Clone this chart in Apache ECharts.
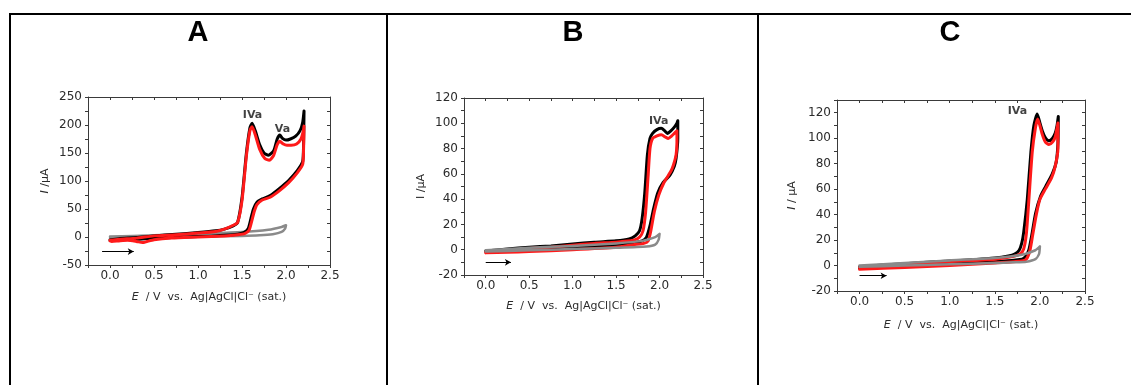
<!DOCTYPE html>
<html>
<head>
<meta charset="utf-8">
<script src="https://cdn.jsdelivr.net/npm/echarts@6/dist/echarts.min.js"></script>
<style>
  html, body { margin: 0; padding: 0; background: #fff; }
  #chart { width: 1131px; height: 385px; }
</style>
</head>
<body>
<div id="chart"></div>
<script>
// Cyclic voltammograms, three electrodes (A, B, C): [E / V, I / µA] along each sweep
const xTickLabels = [0, 0.5, 1.0, 1.5, 2.0, 2.5];
const xTicks = [-0.25, 0, 0.25, 0.5, 0.75, 1.0, 1.25, 1.5, 1.75, 2.0, 2.25, 2.5];

const aBlack = [[0,-5],[0.1,-3],[0.3,-1],[0.5,2],[0.75,5],[1.0,8],[1.2,11],[1.3,14],[1.4,20],[1.45,26],[1.5,70],[1.55,150],[1.59,195],[1.615,203],[1.65,190],[1.7,165],[1.75,150],[1.8,146],[1.86,154],[1.9,175],[1.93,182],[1.96,176],[2.0,173],[2.05,175],[2.11,180],[2.16,190],[2.19,205],[2.205,225],
  [2.2,170],[2.19,135],[2.13,119],[2.03,101],[1.92,86],[1.82,74],[1.73,68],[1.67,62],[1.63,50],[1.6,32],[1.57,15],[1.52,8],[1.45,5],[1.3,3],[1.0,1],[0.7,-1],[0.5,-2],[0.3,-4],[0.1,-5],[0,-6]];
const aRed = [[0,-6],[0.1,-4],[0.3,-2],[0.5,2],[0.75,4],[1.0,7],[1.2,10],[1.3,14],[1.4,21],[1.45,26],[1.5,65],[1.55,145],[1.59,190],[1.615,197],[1.65,183],[1.7,157],[1.76,140],[1.81,137],[1.86,146],[1.9,165],[1.93,171],[1.97,166],[2.01,164],[2.06,164],[2.12,166],[2.17,175],[2.195,188],[2.205,198],
  [2.2,160],[2.19,130],[2.13,115],[2.03,97],[1.92,82],[1.82,71],[1.73,66],[1.67,58],[1.64,46],[1.61,28],[1.58,12],[1.53,6],[1.45,4],[1.3,2],[1.0,0],[0.7,-2],[0.5,-5],[0.42,-8],[0.37,-10],[0.3,-8],[0.2,-6],[0.1,-7],[0.02,-8],[0,-7]];
const aGray = [[0,1],[0.5,3],[1.0,6],[1.5,9],[1.8,13],[1.95,18],[2.0,21],[1.99,15],[1.95,9],[1.85,5],[1.7,3],[1.5,2],[1.0,1],[0.5,0],[0,0]];

const bBlack = [[0,-1],[0.25,0.5],[0.5,2],[0.75,3],[1.0,4.5],[1.25,6],[1.5,7],[1.65,8.5],[1.72,11],[1.77,15],[1.8,25],[1.83,45],[1.86,75],[1.89,88],[1.92,92],[1.97,95],[2.02,96],[2.06,94],[2.09,92],[2.13,94],[2.17,97],[2.2,100],[2.21,102],
  [2.21,88],[2.19,72],[2.17,66],[2.12,59],[2.04,53],[1.98,45],[1.93,32],[1.89,19],[1.85,10],[1.8,7],[1.7,5.5],[1.5,3.5],[1.0,1.5],[0.5,0],[0.25,-0.5],[0,-1.5]];
const bRed = [[0,-2],[0.25,-0.5],[0.5,1],[0.75,2],[1.0,3.5],[1.25,5],[1.5,6],[1.7,7.5],[1.77,10],[1.81,15],[1.84,30],[1.87,60],[1.89,80],[1.92,88],[1.97,90],[2.02,91],[2.07,89],[2.1,88],[2.14,90],[2.17,92],[2.2,94],
  [2.2,85],[2.19,75],[2.16,67],[2.13,62],[2.05,53],[1.99,43],[1.94,30],[1.9,15],[1.87,7],[1.82,5],[1.7,4],[1.5,2],[1.0,0],[0.5,-1.5],[0.25,-2],[0,-2.5]];
const bGray = [[0,-0.5],[0.5,1.5],[1.0,3],[1.5,5],[1.8,7],[1.95,10],[2.0,12.5],[1.99,8],[1.95,4],[1.85,2.5],[1.5,1.5],[1.0,0.5],[0.5,-0.5],[0,-1.5]];

const cBlack = [[0,-1],[0.5,1.5],[1.0,3.5],[1.5,6],[1.65,7.5],[1.72,9],[1.77,12],[1.8,18],[1.82,26],[1.86,52],[1.9,89],[1.933,110],[1.97,119],[2.0,112],[2.03,105],[2.063,100],[2.1,98],[2.14,100],[2.17,104],[2.19,110],[2.204,117],
  [2.2,96],[2.18,81],[2.137,72],[2.063,62],[2.008,54.5],[1.952,41],[1.915,26],[1.878,12.5],[1.84,7],[1.8,5],[1.5,3],[1.0,1],[0.5,-0.5],[0,-2]];
const cRed = [[0,-1.5],[0.5,1],[1.0,3],[1.5,5],[1.7,7],[1.78,9],[1.82,13],[1.85,25],[1.878,52],[1.915,89],[1.95,108],[1.975,115],[2.0,110],[2.026,103],[2.06,97],[2.1,95],[2.14,97],[2.17,101],[2.19,108],[2.2,112],
  [2.2,92],[2.17,78],[2.13,69],[2.06,60],[2.0,52],[1.96,40],[1.92,24],[1.89,12],[1.85,5],[1.8,3.5],[1.5,2],[1.0,0],[0.5,-1.5],[0,-3]];
const cGray = [[0,0],[0.5,2],[1.0,4],[1.5,6],[1.8,8.5],[1.95,12],[2.0,15],[1.99,9],[1.95,5],[1.85,3],[1.7,2.5],[1.5,2],[1.0,1],[0.5,0],[0,-1]];

// Peak labels [E, I, text]
const aPeaks = [[1.62, 217, 'IVa'], [1.96, 192, 'Va']];
const bPeaks = [[1.99, 102, 'IVa']];
const cPeaks = [[1.75, 121, 'IVa']];

// Scan-direction arrows [E start, E end, I]
const aArrow = [-0.09, 0.27, -26];
const bArrow = [0.0, 0.29, -10];
const cArrow = [0.0, 0.3, -8];

const yTicksA = { min: -50, max: 250, interval: 50, labels: [-50, 0, 50, 100, 150, 200, 250] };
const yTicksB = { min: -20, max: 120, interval: 20, labels: [-20, 0, 20, 40, 60, 80, 100, 120] };
const yTicksC = { min: -20, max: 130, interval: 20, labels: [-20, 0, 20, 40, 60, 80, 100, 120] };

const labelFont = 'DejaVu Sans';
const axisColor = '#3a3a3a';
const textColor = '#2b2b2b';

const panels = [
  { grid: { left: 88, top: 97, width: 242, height: 168 }, yt: yTicksA, black: aBlack, red: aRed, gray: aGray,
    peaks: aPeaks, arrow: aArrow, yName: '{i|I} /µA', yGap: 37, xGap: 27, grayFirst: true },
  { grid: { left: 464, top: 98, width: 239, height: 177 }, yt: yTicksB, black: bBlack, red: bRed, gray: bGray,
    peaks: bPeaks, arrow: bArrow, yName: 'I /µA', yGap: 37, xGap: 26, grayFirst: false },
  { grid: { left: 837, top: 100, width: 248, height: 191 }, yt: yTicksC, black: cBlack, red: cRed, gray: cGray,
    peaks: cPeaks, arrow: cArrow, yName: '{i|I} / µA', yGap: 39, xGap: 29, grayFirst: false }
];

const grids = [], xAxes = [], yAxes = [], series = [];
const nameRich = { i: { fontStyle: 'italic', fontFamily: labelFont, fontSize: 11, color: textColor } };

panels.forEach((p, k) => {
  grids.push(p.grid);
  const xb = xAxes.length;
  xAxes.push({
    type: 'value', gridIndex: k, position: 'bottom', min: -0.25, max: 2.5,
    name: '{i|E}  / V  vs.  Ag|AgCl|Cl⁻ (sat.)', nameLocation: 'middle', nameGap: p.xGap,
    nameTextStyle: { fontFamily: labelFont, fontSize: 11, color: textColor, rich: nameRich },
    axisLine: { show: true, onZero: false, lineStyle: { color: axisColor, width: 1 } },
    axisTick: { show: true, length: 3, customValues: xTicks, lineStyle: { color: axisColor } },
    axisLabel: { customValues: xTickLabels, formatter: v => v.toFixed(1), margin: 5,
      fontFamily: labelFont, fontSize: 12, color: textColor },
    splitLine: { show: false }
  });
  xAxes.push({
    type: 'value', gridIndex: k, position: 'top', min: -0.25, max: 2.5,
    axisLine: { show: true, onZero: false, lineStyle: { color: axisColor, width: 1 } },
    axisTick: { show: true, inside: true, length: 3, customValues: xTicks, lineStyle: { color: axisColor } },
    axisLabel: { show: false }, splitLine: { show: false }
  });
  const yl = yAxes.length;
  yAxes.push({
    type: 'value', gridIndex: k, position: 'left', min: p.yt.min, max: p.yt.max, interval: p.yt.interval,
    name: p.yName, nameLocation: 'middle', nameRotate: 90, nameGap: p.yGap,
    nameTextStyle: { fontFamily: labelFont, fontSize: 11, color: textColor, rich: nameRich },
    axisLine: { show: true, onZero: false, lineStyle: { color: axisColor, width: 1 } },
    axisTick: { show: true, length: 3, lineStyle: { color: axisColor } },
    minorTick: { show: true, splitNumber: 2, length: 3, lineStyle: { color: axisColor } },
    axisLabel: { customValues: p.yt.labels, margin: 6, fontFamily: labelFont, fontSize: 12, color: textColor },
    splitLine: { show: false }, minorSplitLine: { show: false }
  });
  yAxes.push({
    type: 'value', gridIndex: k, position: 'right', min: p.yt.min, max: p.yt.max, interval: p.yt.interval,
    axisLine: { show: true, onZero: false, lineStyle: { color: axisColor, width: 1 } },
    axisTick: { show: true, inside: true, length: 3, lineStyle: { color: axisColor } },
    minorTick: { show: true, splitNumber: 2, length: 3, lineStyle: { color: axisColor } },
    axisLabel: { show: false }, splitLine: { show: false }, minorSplitLine: { show: false }
  });

  const curve = (data, color, width, z) => ({
    type: 'line', xAxisIndex: xb, yAxisIndex: yl, data: data, smooth: 0.2,
    showSymbol: false, symbol: 'none', z: z, animation: false,
    lineStyle: { color: color, width: width, join: 'round', cap: 'round' }
  });
  const zGray = p.grayFirst ? 2 : 5;
  series.push(curve(p.gray, '#8a8a8a', 2.5, zGray));
  series.push(curve(p.black, '#000000', 3, 3));
  series.push(curve(p.red, '#ff1a1a', 3, 4));

  // peak labels and scan-direction arrow
  series.push({
    type: 'scatter', xAxisIndex: xb, yAxisIndex: yl, symbolSize: 0, z: 6, animation: false,
    data: p.peaks.map(d => ({ value: [d[0], d[1]], label: { formatter: d[2] } })),
    label: { show: true, position: 'inside', fontFamily: labelFont, fontWeight: 'bold', fontSize: 11, color: '#111' },
    markLine: {
      silent: true, animation: false, symbol: ['none', 'arrow'], symbolSize: [5, 6],
      label: { show: false },
      lineStyle: { color: '#000', width: 1, type: 'solid' },
      data: [[{ coord: [p.arrow[0], p.arrow[2]] }, { coord: [p.arrow[1], p.arrow[2]] }]]
    }
  });
});

// Panel frame and letters
const frameLine = (x1, y1, x2, y2) => ({
  type: 'line', shape: { x1, y1, x2, y2 }, style: { stroke: '#000', lineWidth: 2 }, silent: true
});
const letter = (t, x) => ({
  type: 'text', x: x, y: 33, silent: true,
  style: { text: t, fill: '#000', font: 'bold 29px "Liberation Sans", Arial, sans-serif',
    textAlign: 'center', textVerticalAlign: 'middle' }
});

const chart = echarts.init(document.getElementById('chart'), null, { renderer: 'canvas' });
chart.setOption({
  animation: false,
  backgroundColor: '#fff',
  grid: grids,
  xAxis: xAxes,
  yAxis: yAxes,
  series: series,
  graphic: [
    frameLine(9, 14, 1131, 14),
    frameLine(10, 14, 10, 385),
    frameLine(387, 14, 387, 385),
    frameLine(758, 14, 758, 385),
    letter('A', 198),
    letter('B', 573),
    letter('C', 950)
  ]
});
</script>
</body>
</html>
